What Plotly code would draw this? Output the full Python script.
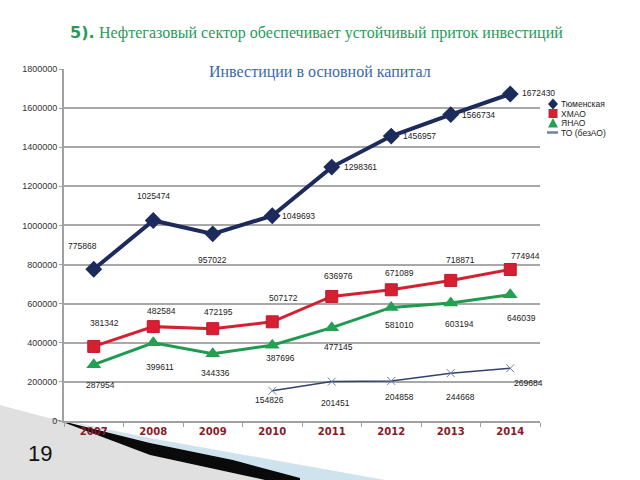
import plotly.graph_objects as go

years = ["2007", "2008", "2009", "2010", "2011", "2012", "2013", "2014"]
tyumen = [775868, 1025474, 957022, 1049693, 1298361, 1456957, 1566734, 1672430]
hmao = [381342, 482584, 472195, 507172, 636976, 671089, 718871, 774944]
yanao = [287954, 399611, 344336, 387696, 477145, 581010, 603194, 646039]
to_bez = [None, None, None, 154826, 201451, 204858, 244668, 269684]
names = ["Тюменская", "ХМАО", "ЯНАО", "ТО (безАО)"]
y_ticks = [0, 200000, 400000, 600000, 800000, 1000000, 1200000, 1400000, 1600000, 1800000]

title_num = "5)."
title_text = "Нефтегазовый сектор обеспечивает устойчивый приток инвестиций"
chart_title = "Инвестиции в основной капитал"
page_no = "19"

# label offsets in pixels (dx, dy; dy positive = down) and anchors
off_ty = [(-11, -23, "center"), (0, -24, "center"), (0, 26, "center"), (8, 0, "left"),
          (10, 0, "left"), (10, 0, "left"), (9, 0, "left"), (10, -1, "left")]
off_hm = [(11, -23, "center"), (8, -16, "center"), (6, -17, "center"), (11, -24, "center"),
          (7, -20, "center"), (8, -17, "center"), (10, -20, "center"), (15, -13, "center")]
off_ya = [(7, 20, "center"), (7, 24, "center"), (3, 19, "center"), (8, 13, "center"),
          (7, 19, "center"), (8, 18, "center"), (9, 21, "center"), (11, 23, "center")]
off_to = [None, None, None, (-3, 9, "center"), (4, 21, "center"), (8, 16, "center"),
          (10, 24, "center"), (18, 15, "center")]

W, H = 640, 480
L, R, T, B = 64, 100, 69, 59
PW, PH = W - L - R, H - T - B


def px(x):
    return (x - L) / PW


def py(y):
    return (H - B - y) / PH


fig = go.Figure()

c_ty = "#1c2a5c"
c_hm = "#d61f30"
c_ya = "#1f9a50"
c_to = "#34416e"
c_to_m = "#7080a8"
c_title = "#2a9a58"

fig.add_trace(go.Scatter(x=years, y=tyumen, name=names[0], mode="lines+markers",
                         line=dict(color=c_ty, width=4),
                         marker=dict(symbol="diamond", size=13, color=c_ty)))
fig.add_trace(go.Scatter(x=years, y=hmao, name=names[1], mode="lines+markers",
                         line=dict(color=c_hm, width=3),
                         marker=dict(symbol="square", size=12, color=c_hm,
                                     line=dict(color="#c01830", width=1))))
fig.add_trace(go.Scatter(x=years, y=yanao, name=names[2], mode="lines+markers",
                         line=dict(color=c_ya, width=3),
                         marker=dict(symbol="triangle-up", size=13, color="#22a152")))
fig.add_trace(go.Scatter(x=years, y=to_bez, name=names[3], mode="lines+markers",
                         line=dict(color=c_to, width=1.5),
                         marker=dict(symbol="x-thin", size=8, color=c_to_m,
                                     line=dict(color=c_to_m, width=1))))

lab_font = dict(family="Liberation Sans, Arial", size=8.5, color="#222222")
annotations = []
for series, offs in [(tyumen, off_ty), (hmao, off_hm), (yanao, off_ya), (to_bez, off_to)]:
    for i, (v, o) in enumerate(zip(series, offs)):
        if v is None:
            continue
        dx, dy, anc = o
        annotations.append(dict(x=i, y=v, xref="x", yref="y", text=str(v),
                                showarrow=False, xanchor=anc, yanchor="middle",
                                xshift=dx, yshift=-dy, font=lab_font))

annotations.append(dict(x=px(97), y=py(33), xref="paper", yref="paper",
                        text="<b>" + title_num + "</b>",
                        showarrow=False, xanchor="right", yanchor="middle",
                        font=dict(family="DejaVu Sans", size=16, color=c_title)))
annotations.append(dict(x=px(97), y=py(33), xref="paper", yref="paper",
                        text=title_text,
                        showarrow=False, xanchor="left", yanchor="middle",
                        font=dict(family="Liberation Serif", size=16, color=c_title)))
annotations.append(dict(x=px(320), y=py(72), xref="paper", yref="paper", text=chart_title,
                        showarrow=False, xanchor="center", yanchor="middle",
                        font=dict(family="Liberation Serif", size=16, color="#3a6aa8")))
annotations.append(dict(x=px(40), y=py(453), xref="paper", yref="paper", text=page_no,
                        showarrow=False, xanchor="center", yanchor="middle",
                        font=dict(family="Liberation Sans, Arial", size=22, color="#111111")))

# manual compact legend
leg_x, leg_y0, leg_dy = 553, 104, 9.5
for k, nm in enumerate(names):
    annotations.append(dict(x=px(leg_x + 6), y=py(leg_y0 + k * leg_dy), xref="paper", yref="paper",
                            text=nm, showarrow=False, xanchor="left", yanchor="middle",
                            font=dict(family="Liberation Sans, Arial", size=8.5, color="#222222")))


def poly(pts):
    return "M " + " L ".join(f"{px(a):.4f},{py(b):.4f}" for a, b in pts) + " Z"


def seg(pts):
    return "M " + " L ".join(f"{px(a):.4f},{py(b):.4f}" for a, b in pts)


ly = [leg_y0 + k * leg_dy for k in range(4)]
shapes = [
    dict(type="path", xref="paper", yref="paper",
         path=poly([(leg_x, ly[0] - 5.5), (leg_x + 5, ly[0]), (leg_x, ly[0] + 5.5), (leg_x - 5, ly[0])]),
         fillcolor=c_ty, line=dict(width=0)),
    dict(type="path", xref="paper", yref="paper",
         path=poly([(leg_x - 4.5, ly[1] - 4.5), (leg_x + 4.5, ly[1] - 4.5), (leg_x + 4.5, ly[1] + 4.5), (leg_x - 4.5, ly[1] + 4.5)]),
         fillcolor=c_hm, line=dict(width=0)),
    dict(type="path", xref="paper", yref="paper",
         path=poly([(leg_x, ly[2] - 5), (leg_x + 5, ly[2] + 4.5), (leg_x - 5, ly[2] + 4.5)]),
         fillcolor="#22a152", line=dict(width=0)),
    dict(type="path", xref="paper", yref="paper",
         path=seg([(leg_x - 6, ly[3]), (leg_x + 5, ly[3])]),
         line=dict(color=c_to_m, width=2.5)),
    # slide decoration
    dict(type="path", xref="paper", yref="paper",
         path=poly([(0, 405), (60, 421), (150, 455), (265, 480), (0, 480)]),
         fillcolor="#e0e0e0", line=dict(width=0), layer="below"),
    dict(type="path", xref="paper", yref="paper",
         path=poly([(58, 419), (150, 438), (385, 480), (300, 480), (233, 460), (150, 443)]),
         fillcolor="#cfe3ee", line=dict(width=0), layer="below"),
    dict(type="path", xref="paper", yref="paper",
         path=poly([(50, 418), (150, 443), (233, 460), (300, 478), (300, 480), (265, 480),
                    (233, 473), (150, 455), (60, 421)]),
         fillcolor="#0a0a0a", line=dict(width=0), layer="below"),
]

fig.update_layout(
    width=W, height=H,
    margin=dict(l=L, r=R, t=T, b=B, autoexpand=False),
    paper_bgcolor="white", plot_bgcolor="white",
    showlegend=False,
    annotations=annotations,
    shapes=shapes,
    xaxis=dict(type="category", categoryorder="array", categoryarray=years,
               range=[-0.5, 7.5], showgrid=False, showline=True, linecolor="#a0a0a0", linewidth=2,
               ticks="outside", tickson="boundaries", ticklen=4, tickcolor="#a0a0a0",
               tickfont=dict(family="DejaVu Sans", size=10, color="#8b1a2a", weight="bold")),
    yaxis=dict(range=[0, 1800000], tickvals=y_ticks, ticktext=[str(v) for v in y_ticks],
               showgrid=True, gridcolor="#a8a8a8", gridwidth=2,
               showline=True, linecolor="#a0a0a0", linewidth=2, zeroline=False,
               ticks="outside", ticklen=3, tickcolor="#a0a0a0",
               tickfont=dict(family="Liberation Sans, Arial", size=9, color="#333333")),
)

fig.write_html("out.html", config={"displayModeBar": False},
               post_script="document.body.style.margin='0';document.body.style.overflow='hidden';")
